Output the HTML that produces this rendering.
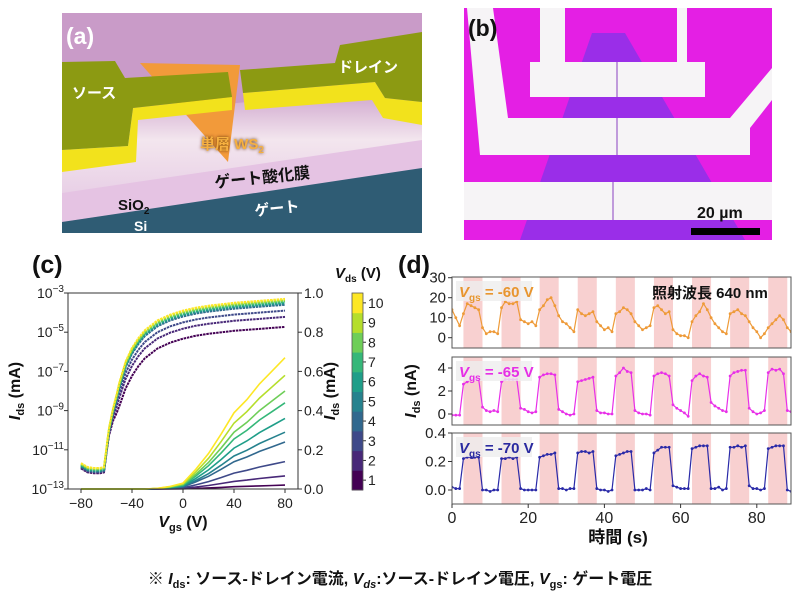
<!DOCTYPE html>
<html><head><meta charset="utf-8">
<style>
html,body{margin:0;padding:0;background:#fff;}
svg{display:block;font-family:"Liberation Sans","Noto Sans CJK JP",sans-serif;}
</style></head>
<body>
<svg id="fig" width="800" height="603" viewBox="0 0 800 603" xmlns="http://www.w3.org/2000/svg">
<defs>
<clipPath id="clipA"><rect x="62" y="13" width="360" height="220"/></clipPath>
<clipPath id="clipB"><rect x="464" y="8" width="308" height="232"/></clipPath>
<clipPath id="clipD1"><rect x="452" y="277" width="339" height="71"/></clipPath>
<clipPath id="clipD2"><rect x="452" y="357" width="339" height="68"/></clipPath>
<clipPath id="clipD3"><rect x="452" y="433" width="339" height="71"/></clipPath>
<clipPath id="clipC"><rect x="68" y="290" width="230" height="200"/></clipPath>
<linearGradient id="surf" x1="0" y1="0" x2="0" y2="1"><stop offset="0" stop-color="#c99bc8"/><stop offset="0.5" stop-color="#f3e6ee"/><stop offset="1" stop-color="#e8cfe6"/></linearGradient>
<filter id="glow"><feGaussianBlur stdDeviation="1.5"/></filter>
</defs>

<!-- Panel A -->
<g clip-path="url(#clipA)">
<rect x="62" y="13" width="360" height="220" fill="#c99bc8"/>
<polygon points="62,120 422,85 422,150 62,195" fill="url(#surf)"/>
<polygon points="62,193 422,140 422,170 62,222" fill="#e5c3e3"/>
<polygon points="62,222 422,168 422,233 62,233" fill="#2f5c74"/>
<polygon points="140,63 240,65 228,162" fill="#f29a3a"/>
<g>
<polygon points="62,150 128,146 133,108 232,97 232,110 138,120 136,162 62,172" fill="#f2e21c"/>
<polygon points="62,62 115,61 125,78 228,72 232,97 133,108 128,146 62,150" fill="#8c9a12"/>
</g>
<g>
<polygon points="243,93 375,82 385,98 422,102 422,125 383,118 372,100 245,110" fill="#f2e21c"/>
<polygon points="240,70 335,63 340,45 422,32 422,102 385,98 375,82 243,93" fill="#8c9a12"/>
</g>
<text x="66" y="44" font-size="23" font-weight="bold" fill="#fff">(a)</text>
<text x="72" y="98" font-size="15" font-weight="bold" fill="#fff">ソース</text>
<text x="338" y="72" font-size="15" font-weight="bold" fill="#fff">ドレイン</text>
<text x="200" y="149" font-size="15" font-weight="bold" fill="#5a2a00" filter="url(#glow)">単層 WS<tspan font-size="10" dy="4">2</tspan></text>
<text x="200" y="149" font-size="15" font-weight="bold" fill="#f6b040">単層 WS<tspan font-size="10" dy="4">2</tspan></text>
<text x="215" y="188" font-size="16" font-weight="bold" fill="#111" transform="rotate(-6 215 188)">ゲート酸化膜</text>
<text x="118" y="210" font-size="15" font-weight="bold" fill="#111">SiO<tspan font-size="10" dy="4">2</tspan></text>
<text x="134" y="231" font-size="14" font-weight="bold" fill="#fff">Si</text>
<text x="255" y="216" font-size="15" font-weight="bold" fill="#fff" transform="rotate(-6 255 216)">ゲート</text>
</g>

<!-- Panel B -->
<g clip-path="url(#clipB)">
<rect x="464" y="8" width="308" height="232" fill="#e41fe4"/>
<polygon points="592,33 625,33 745,240 520,240" fill="#9a2ee8"/>
<g fill="#f6f4f6">
<polygon points="540,8 565,8 565,62 677,62 677,8 687,8 687,62 705,62 705,97 530,97 530,62 540,62"/>
<polygon points="467,8 493,8 508,118 730,118 772,68 772,100 750,128 750,155 480,155"/>
<rect x="464" y="182" width="308" height="38"/>
</g>
<g stroke="#8a40c0" stroke-width="1">
<line x1="617" y1="62" x2="617" y2="97"/><line x1="617" y1="118" x2="617" y2="155"/><line x1="613" y1="182" x2="613" y2="220"/>
</g>
<text x="468" y="36" font-size="23" font-weight="bold" fill="#111">(b)</text>
<text x="697" y="218" font-size="16" font-weight="bold" fill="#111">20 µm</text>
<rect x="691" y="228" width="69" height="7" fill="#000"/>
</g>

<!-- Panel C -->
<g>
<text x="32" y="273" font-size="25" font-weight="bold" fill="#111">(c)</text>
<g id="cMarks" clip-path="url(#clipC)"></g>
<rect x="68" y="293" width="230" height="196" fill="none" stroke="#333" stroke-width="1"/>
<g id="cTicks" font-size="14" fill="#222"></g>
<text x="183" y="527" font-size="16" font-weight="bold" text-anchor="middle" fill="#111"><tspan font-style="italic">V</tspan><tspan font-size="11" dy="4">gs</tspan><tspan dy="-4"> (V)</tspan></text>
<text transform="translate(20 391) rotate(-90)" font-size="16" font-weight="bold" text-anchor="middle" fill="#111"><tspan font-style="italic">I</tspan><tspan font-size="11" dy="4">ds</tspan><tspan dy="-4"> (mA)</tspan></text>
<text transform="translate(335 391) rotate(-90)" font-size="16" font-weight="bold" text-anchor="middle" fill="#111"><tspan font-style="italic">I</tspan><tspan font-size="11" dy="4">ds</tspan><tspan dy="-4"> (mA)</tspan></text>
<text x="335" y="278" font-size="15" font-weight="bold" fill="#111"><tspan font-style="italic">V</tspan><tspan font-size="10" dy="4">ds</tspan><tspan dy="-4"> (V)</tspan></text>
<g id="cbar"></g>
</g>

<!-- Panel D -->
<g>
<text x="398" y="273" font-size="25" font-weight="bold" fill="#111">(d)</text>
<g id="dMarks"></g>
<rect x="452" y="277" width="339" height="71" fill="none" stroke="#555"/>
<rect x="452" y="357" width="339" height="68" fill="none" stroke="#555"/>
<rect x="452" y="433" width="339" height="71" fill="none" stroke="#555"/>
<g id="dTicks" font-size="15" fill="#222"></g>
<rect x="456" y="281" width="76" height="20" fill="#eeeeee" opacity="0.8"/>
<text x="459" y="297" font-size="15" font-weight="bold" fill="#e8952e"><tspan font-style="italic">V</tspan><tspan font-size="10" dy="4">gs</tspan><tspan dy="-4"> = -60 V</tspan></text>
<text x="652" y="298" font-size="15" font-weight="bold" fill="#111">照射波長 640 nm</text>
<rect x="456" y="361" width="76" height="20" fill="#eeeeee" opacity="0.8"/>
<text x="459" y="377" font-size="15" font-weight="bold" fill="#e62ee6"><tspan font-style="italic">V</tspan><tspan font-size="10" dy="4">gs</tspan><tspan dy="-4"> = -65 V</tspan></text>
<rect x="456" y="437" width="76" height="20" fill="#eeeeee" opacity="0.8"/>
<text x="459" y="453" font-size="15" font-weight="bold" fill="#2a2aa0"><tspan font-style="italic">V</tspan><tspan font-size="10" dy="4">gs</tspan><tspan dy="-4"> = -70 V</tspan></text>
<text transform="translate(416 391) rotate(-90)" font-size="16" font-weight="bold" text-anchor="middle" fill="#111"><tspan font-style="italic">I</tspan><tspan font-size="11" dy="4">ds</tspan><tspan dy="-4"> (nA)</tspan></text>
<text x="618" y="543" font-size="17" font-weight="bold" text-anchor="middle" fill="#111">時間 (s)</text>
</g>

<text x="400" y="584" font-size="16" font-weight="bold" text-anchor="middle" fill="#111">※ <tspan font-style="italic">I</tspan><tspan font-size="11" dy="4">ds</tspan><tspan dy="-4">: ソース-ドレイン電流, </tspan><tspan font-style="italic">V</tspan><tspan font-size="11" dy="4" font-style="italic">ds</tspan><tspan dy="-4">:ソース-ドレイン電圧, </tspan><tspan font-style="italic">V</tspan><tspan font-size="11" dy="4">gs</tspan><tspan dy="-4">: ゲート電圧</tspan></text>
</svg>

<script>
// ---------- Panel C data ----------
const vdsLevels = [1,2,3,4,5,6,7,8,9,10];
const vdsColors = ["#440154","#482878","#3e4989","#31688e","#26828e","#1f9e89","#35b779","#6ece58","#b5de2b","#fde725"];
const vgsLog = [-80,-75,-70,-65,-62,-60,-58,-55,-52,-50,-45,-40,-35,-30,-20,-10,0,10,20,40,60,80];
const logIdsVds10 = [-11.8,-12.0,-12.05,-12.05,-12.0,-11,-10,-9,-8.2,-7.6,-6.5,-5.8,-5.3,-4.9,-4.4,-4.1,-3.9,-3.75,-3.65,-3.5,-3.4,-3.3];
const logOnsetWeight = [0,0,0,0,0,0,0.1,0.3,0.6,0.8,0.95,1,1,1,1,1,1,1,1,1,1,1];
const logSatDrop = [-1.43,-0.92,-0.6,-0.3,-0.25,-0.2,-0.15,-0.1,-0.05,0];
const vgsLin = [-80,-40,-30,-20,-10,0,10,20,30,40,50,60,70,80];
const linProfile = [0,0,0,0.005,0.02,0.045,0.15,0.27,0.42,0.58,0.68,0.8,0.9,1];
const linEndIds = [0.02,0.067,0.14,0.24,0.29,0.36,0.44,0.50,0.58,0.67];
const xTicksC = [-80,-40,0,40,80];
const logTicksC = [-3,-5,-7,-9,-11,-13];
const linTicksC = ["1.0","0.8","0.6","0.4","0.2","0.0"];

// ---------- Panel D data ----------
const timeS = [0,1,2,3,4,5,6,7,8,9,10,11,12,13,14,15,16,17,18,19,20,21,22,23,24,25,26,27,28,29,30,31,32,33,34,35,36,37,38,39,40,41,42,43,44,45,46,47,48,49,50,51,52,53,54,55,56,57,58,59,60,61,62,63,64,65,66,67,68,69,70,71,72,73,74,75,76,77,78,79,80,81,82,83,84,85,86,87,88,89];
const lightOnStarts = [3,13,23,33,43,53,63,73,83];
const lightOnDuration = 5;
const ids60 = [14,10,6,12,17,16,15,14,5,2,3,3,2,15,18,17,17,18,9,8,7,8,6,14,16,19,20,16,11,8,7,5,3,14,12,11,12,13,8,6,4,5,3,12,13,15,14,12,8,6,4,5,6,15,16,14,12,13,4,2,1,1,0,8,11,13,17,14,10,7,5,3,2,12,13,14,12,11,8,5,3,0,2,5,7,9,11,9,5,3];
const ids65 = [-0.1,-0.1,-0.1,2.6,2.8,3.0,3.1,3.0,0.6,0.3,0.2,0.3,0.2,2.8,3.0,3.0,3.0,3.0,0.5,0.4,0.2,0.1,0.2,3.2,3.4,3.5,3.5,3.4,0.4,0.2,0,-0.1,0,2.8,2.9,3.0,3.1,3.2,0.3,0.1,0.1,0,0,3.3,3.6,4.0,3.7,3.6,0.3,0.1,0,0,-0.1,3.3,3.5,3.6,3.5,3.3,0.8,0.5,0.3,0.1,-0.2,2.9,3.3,3.5,3.3,3.2,1.0,0.7,0.5,0.3,0.2,3.3,3.6,3.7,3.8,3.8,0.5,0.2,0,0.1,0.3,3.6,3.9,3.8,3.9,3.5,0.3,0.2];
const ids70 = [0.02,0.01,0.01,0.22,0.23,0.23,0.23,0.23,0,0,-0.01,0,0,0.22,0.22,0.23,0.22,0.23,0.01,0,0,0,0,0.23,0.24,0.25,0.25,0.26,0.01,0.01,0,0.01,0.01,0.26,0.27,0.27,0.26,0.27,0.01,0,0,-0.01,0,0.24,0.25,0.26,0.27,0.27,0,0,0,0.01,0,0.26,0.28,0.30,0.30,0.30,0.03,0.02,0.01,0.01,0.01,0.29,0.30,0.31,0.31,0.31,0.01,0.01,0.02,0,0.01,0.30,0.30,0.31,0.30,0.31,0.03,0.01,0.01,0,0.01,0.29,0.30,0.31,0.31,0.31,0,-0.01];
const xTicksD = [0,20,40,60,80];
const yTicksD1 = [30,20,10,0];
const yTicksD2 = [4,2,0];
const yTicksD3 = ["0.4","0.2","0.0"];

const NS = "http://www.w3.org/2000/svg";
function mk(tag, attrs, parent){const e=document.createElementNS(NS,tag);for(const k in attrs)e.setAttribute(k,attrs[k]);parent.appendChild(e);return e;}

// axis functions
const xC = v => 81 + (v + 80) * 1.275;
const yLog = l => 489 - (l + 13) * 19.6;
const yLin = i => 489 - i * 196;
const xD = t => 452 + t * 3.81;
const yD1 = v => 337.7 - v * 2.0;
const yD2 = v => 414 - v * 11.5;
const yD3 = v => 490 - v * 142.5;

// panel C marks
const cMarks = document.getElementById('cMarks');
for (let k = 0; k < vdsLevels.length; k++) {
  let d = "";
  vgsLin.forEach((v,i)=>{ d += (i?"L":"M") + xC(v).toFixed(1) + "," + yLin(linProfile[i]*linEndIds[k]).toFixed(1); });
  const p = mk('path',{d:d,fill:"none",stroke:vdsColors[k],"stroke-width":1.6},cMarks);
  
  
}
for (let k = 0; k < vdsLevels.length; k++) {
  let d = "";
  vgsLog.forEach((v,i)=>{ d += (i?"L":"M") + xC(v).toFixed(1) + "," + yLog(logIdsVds10[i] + logSatDrop[k]*logOnsetWeight[i] + (k-5)*0.03*(1-logOnsetWeight[i])).toFixed(1); });
  const p = mk('path',{d:d,fill:"none",stroke:vdsColors[k],"stroke-width":2,"stroke-dasharray":"2.5 0.8"},cMarks);
  
  
}
const cTicks = document.getElementById('cTicks');
xTicksC.forEach(v=>{
  mk('line',{x1:xC(v),x2:xC(v),y1:489,y2:493,stroke:"#333"},cTicks);
  const t = mk('text',{x:xC(v),y:508,"text-anchor":"middle"},cTicks);
  t.textContent = v === 0 ? "0" : (v < 0 ? "\u2212" + (-v) : String(v));
  
  
});
logTicksC.forEach(l=>{
  mk('line',{x1:64,x2:68,y1:yLog(l),y2:yLog(l),stroke:"#333"},cTicks);
  const t = mk('text',{x:64,y:yLog(l)+5,"text-anchor":"end"},cTicks);
  t.textContent = "10";
  const s = mk('tspan',{dy:-6,"font-size":10},t); s.textContent = "\u2212" + (-l);
  
  
});
linTicksC.forEach(s=>{
  const y = yLin(parseFloat(s));
  mk('line',{x1:298,x2:302,y1:y,y2:y,stroke:"#333"},cTicks);
  const t = mk('text',{x:304,y:y+5},cTicks);
  t.textContent = s;
  
  
});
// colorbar
const cbar = document.getElementById('cbar');
const cbTop = 293, cbBot = 490, cbH = (cbBot - cbTop) / vdsLevels.length;
vdsLevels.forEach((lv,k)=>{
  const y = cbBot - (k+1)*cbH;
  const r = mk('rect',{x:352,y:y,width:11,height:cbH+0.5,fill:vdsColors[k]},cbar);
  
  
  mk('line',{x1:363,x2:366,y1:y+cbH/2,y2:y+cbH/2,stroke:"#333"},cbar);
  const t = mk('text',{x:368,y:y+cbH/2+5,"font-size":14,fill:"#222"},cbar);
  t.textContent = String(lv);
  
  
});
mk('rect',{x:352,y:cbTop,width:11,height:cbBot-cbTop,fill:"none",stroke:"#555","stroke-width":0.8},cbar);

// panel D marks
const dMarks = document.getElementById('dMarks');
const panels = [
  {clip:"clipD1", y:yD1, data:ids60, color:"#ee9a38", name:"trace-vgs-60"},
  {clip:"clipD2", y:yD2, data:ids65, color:"#e830e8", name:"trace-vgs-65"},
  {clip:"clipD3", y:yD3, data:ids70, color:"#2a2aa8", name:"trace-vgs-70"}
];
panels.forEach(P=>{
  const g = mk('g',{"clip-path":"url(#"+P.clip+")"},dMarks);
  lightOnStarts.forEach(s=>{
    const r = mk('rect',{x:xD(s),y:270,width:xD(s+lightOnDuration)-xD(s),height:240,fill:"#f8d0d0"},g);
    
    
  });
  let d = "";
  timeS.forEach((t,i)=>{ d += (i?"L":"M") + xD(t).toFixed(1) + "," + P.y(P.data[i]).toFixed(1); });
  const p = mk('path',{d:d,fill:"none",stroke:P.color,"stroke-width":1.2},g);
  
  
  timeS.forEach((t,i)=>{
    const c = mk('circle',{cx:xD(t),cy:P.y(P.data[i]),r:1.4,fill:P.color},g);
    
    
  });
});
const dTicks = document.getElementById('dTicks');
xTicksD.forEach(v=>{
  mk('line',{x1:xD(v),x2:xD(v),y1:504,y2:508,stroke:"#333"},dTicks);
  const t = mk('text',{x:xD(v),y:523,"text-anchor":"middle","font-size":16},dTicks);
  t.textContent = String(v);
  
  
});
function yt(arr, fn){
  arr.forEach(s=>{
    const y = fn(parseFloat(s));
    mk('line',{x1:448,x2:452,y1:y,y2:y,stroke:"#333"},dTicks);
    const t = mk('text',{x:446,y:y+5,"text-anchor":"end"},dTicks);
    t.textContent = String(s);
    
    
  });
}
yt(yTicksD1, yD1); yt(yTicksD2, yD2); yt(yTicksD3, yD3);
</script>
</body></html>
